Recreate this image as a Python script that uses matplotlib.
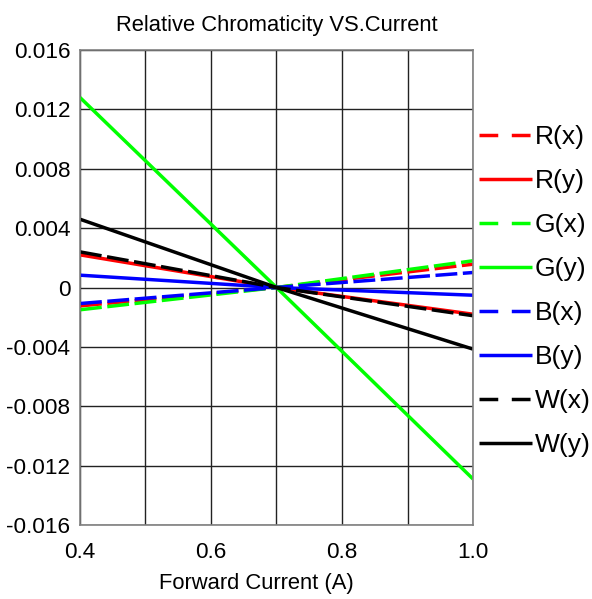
import matplotlib
matplotlib.use("Agg")
import matplotlib.pyplot as plt
from matplotlib.ticker import MultipleLocator, FixedLocator

plt.rcParams['font.family'] = ['Liberation Sans', 'DejaVu Sans']

current = [0.4, 0.7, 1.0]
labels = ["R(x)", "R(y)", "G(x)", "G(y)", "B(x)", "B(y)", "W(x)", "W(y)"]
rx = [-0.00124, 0.0, 0.00157]
ry = [0.0022, 0.0, -0.0018]
gx = [-0.0015, 0.0, 0.0018]
gy = [0.0128, 0.0, -0.0129]
bx = [-0.00108, 0.0, 0.00101]
by = [0.00083, 0.0, -0.00052]
wx = [0.0024, 0.0, -0.0019]
wy = [0.0046, 0.0, -0.00415]
series = [rx, ry, gx, gy, bx, by, wx, wy]
colors = ["#ff0000", "#ff0000", "#00ff00", "#00ff00", "#0000ff", "#0000ff", "#000000", "#000000"]
dashed = [True, False, True, False, True, False, True, False]

yticks = [-0.016, -0.012, -0.008, -0.004, 0, 0.004, 0.008, 0.012, 0.016]
ytick_labels = ["-0.016", "-0.012", "-0.008", "-0.004", "0", "0.004", "0.008", "0.012", "0.016"]
xticks = [0.4, 0.6, 0.8, 1.0]
xtick_labels = ["0.4", "0.6", "0.8", "1.0"]

W, H = 592, 599
fig = plt.figure(figsize=(W / 100, H / 100), dpi=100)
ax = fig.add_axes([80 / W, 1 - 525 / H, (473 - 80) / W, (525 - 50) / H])

ax.set_xlim(0.4, 1.0)
ax.set_ylim(-0.016, 0.016)
ax.xaxis.set_major_locator(FixedLocator(xticks))
ax.set_xticklabels(xtick_labels)
ax.xaxis.set_minor_locator(MultipleLocator(0.1))
ax.yaxis.set_major_locator(FixedLocator(yticks))
ax.set_yticklabels(ytick_labels)
ax.grid(True, which='both', color='#222222', linewidth=1.0)
ax.set_axisbelow(True)
ax.tick_params(which='both', length=0, labelsize=16.2, colors='black')
ax.tick_params(axis='x', pad=12)
ax.tick_params(axis='y', pad=7)
for s in ax.spines.values():
    s.set_color('#808080')
    s.set_linewidth(1.2)

for lab, vals, c, d in zip(labels, series, colors, dashed):
    line, = ax.plot(current, vals, color=c, linewidth=2.5, label=lab, solid_capstyle='butt')
    if d:
        line.set_dashes((6.3, 1.6))

ax.set_title("Relative Chromaticity VS.Current", fontsize=15.8, pad=14)
ax.set_xlabel("Forward Current (A)", fontsize=15.8)
ax.xaxis.set_label_coords((256 - 80) / (473 - 80), -(583 - 525) / (525 - 50), transform=ax.transAxes)
ax.xaxis.label.set_va('center')

leg = ax.legend(loc='upper left', bbox_to_anchor=(479 / W, 1 - 125 / H), bbox_transform=fig.transFigure,
                frameon=False, fontsize=19, handlelength=2.0, handletextpad=0.1,
                labelspacing=0.76, borderpad=0, borderaxespad=0)
for h in leg.get_lines():
    if h.get_linestyle() != '-':
        h.set_dashes((5.4, 3.9))

fig.savefig("out.png", dpi=100)
